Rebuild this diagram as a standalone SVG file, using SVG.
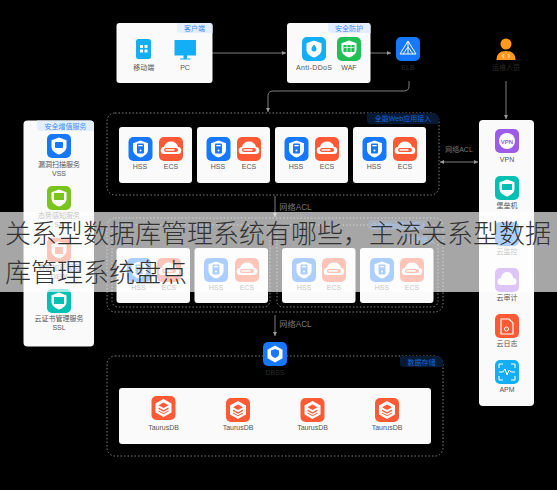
<svg xmlns="http://www.w3.org/2000/svg" width="557" height="490" viewBox="0 0 557 490">
<style>
text{font-family:"Liberation Sans","Noto Sans CJK SC",sans-serif;font-size:7px;fill:#555;text-anchor:middle}
.card{fill:#fafafa}
.dash{fill:none;stroke:#7f7f7f;stroke-width:1;stroke-dasharray:1.5 2}
.tag{fill:#e3eeff}
text.tagt{fill:#3f8cf5}
.dtag{fill:#071a33}
text.dtagt{fill:#1668dc}
.line{fill:none;stroke:#7d7d7d;stroke-width:1}
.g{fill:#fff}
text.dark{fill:#2b2b2b}
text.acl{fill:#7a7a7a;font-size:8.200px}
text.ov{font-family:"Noto Sans CJK SC","Liberation Sans",sans-serif;font-size:26px;font-weight:300;fill:#333;text-anchor:start}
</style>
<defs>
<marker id="a" viewBox="0 0 6 6" refX="5" refY="3" markerWidth="5" markerHeight="5" orient="auto-start-reverse"><path d="M0 .5L5 3L0 5.5z" fill="#9a9a9a"/></marker>
<g id="hss"><rect width="24" height="24" rx="5" fill="#1677ff"/><path d="M12 3.500l7.500 2.700v6.300c0 4-3.200 6.500-7.500 8-4.300-1.500-7.500-4-7.500-8V6.200z" fill="#fff"/><rect x="8.500" y="6.500" width="7" height="10" rx="1" fill="#1677ff"/><rect x="9.800" y="8" width="4.400" height="1.300" fill="#fff"/><circle cx="12" cy="13.500" r="1" fill="#fff"/></g>
<g id="ecs"><rect width="24" height="24" rx="5" fill="#ff5a35"/><path d="M5.500 17a3.500 3.500 0 0 1-.5-7 7.200 7.200 0 0 1 14 0 3.500 3.500 0 0 1-.5 7z" fill="#fff"/><rect x="5" y="11" width="14" height="4" rx="2" fill="#ff5a35"/><rect x="6.500" y="12.200" width="9" height="1.500" fill="#fff"/></g>
<g id="tau"><rect width="24" height="24" rx="5" fill="#ff5a35"/><path d="M12 3l8 4.500v9L12 21l-8-4.500v-9z" fill="#fff"/><path d="M12 6.500l5 2.700-5 2.700-5-2.700zM7 11.500l5 2.700 5-2.700v1.500l-5 2.700-5-2.700zM7 14.500l5 2.700 5-2.700v1l-5 2.700-5-2.700z" fill="#ff5a35"/></g>
<g id="sh"><path d="M12 3.500l7.500 2.700v6.300c0 4-3.200 6.500-7.500 8-4.300-1.500-7.500-4-7.500-8V6.200z" fill="#fff"/></g>
</defs>
<rect width="557" height="490" fill="#000"/>
<g id="connectors">
<path class="line" d="M212 53H286" marker-end="url(#a)"/>
<path class="line" d="M370 53H391" marker-end="url(#a)"/>
<path class="line" d="M409 81V86Q409 91 404 91H273Q268 91 268 96V112" marker-end="url(#a)"/>
<path class="line" d="M506 81V119" marker-end="url(#a)"/>
<path class="line" d="M440 162H478" marker-start="url(#a)" marker-end="url(#a)"/>
<path class="line" d="M275 196V217" marker-end="url(#a)"/>
<path class="line" d="M275 315V336" marker-end="url(#a)"/>
<text class="acl" x="295.500" y="210">网络ACL</text>
<text class="acl" x="459" y="151.500" style="font-size:7px">网络ACL</text>
<text class="acl" x="295.500" y="327">网络ACL</text>
</g>
<g id="client"><rect class="card" x="116.500" y="23" width="96" height="60" rx="3"/><path class="tag" d="M177 23H209.500a3 3 0 0 1 3 3V33H181a4 4 0 0 1-4-4z"/><text class="tagt" x="194.500" y="31">客户端</text>
<rect x="136" y="39" width="15" height="20" rx="2.500" fill="#13aef5"/><g class="g"><rect x="140" y="45" width="3" height="3" rx=".6"/><rect x="144.500" y="45" width="3" height="3" rx=".6"/><rect x="140" y="49.500" width="3" height="3" rx=".6"/><rect x="144.500" y="49.500" width="3" height="3" rx=".6"/></g><text x="143.700" y="69.500">移动端</text>
<path d="M174.500 40h21.500v15.500h-9v3h3.500v1h-10.500v-1h3.500v-3h-9z" fill="#13aef5"/><text x="185" y="69.500">PC</text></g>
<g id="security"><rect class="card" x="287" y="23" width="83.500" height="60" rx="3"/><path class="tag" d="M328 23H367.500a3 3 0 0 1 3 3V33H332a4 4 0 0 1-4-4z"/><text class="tagt" x="349" y="31">安全防护</text>
<rect x="302" y="37" width="24" height="24" rx="5" fill="#13aef5"/><use href="#sh" x="302" y="37"/><path d="M314 44.500c1.500 2 2.500 3 2.500 4.500a2.500 2.500 0 0 1-5 0c0-1.500 1-2.500 2.500-4.500z" fill="#13aef5"/><text x="314" y="69.500" textLength="36" lengthAdjust="spacing">Anti-DDoS</text>
<rect x="337" y="37" width="24" height="24" rx="5" fill="#1fc056"/><use href="#sh" x="337" y="37"/><rect x="343.500" y="45" width="11" height="7" fill="#1fc056"/><path d="M344 47.500h10M347 45v7M351 45v7" stroke="#fff" stroke-width=".7"/><text x="349" y="69.500">WAF</text></g>
<g id="elb"><rect x="396" y="37" width="24" height="24" rx="5" fill="#1677ff"/><path d="M408 41L400 54H416zM408 41V54M403 54L408 47L413 54" fill="none" stroke="#fff" stroke-width="1"/><text class="dark" x="408" y="69.500">ELB</text></g>
<g id="ops"><circle cx="506" cy="44" r="5.500" fill="#ff9a1f"/><path d="M496.500 60c0-6 3.500-9 9.500-9s9.500 3 9.500 9z" fill="#ff9a1f"/><path d="M504 54l-1.500 2 1.500 2M508 54l1.500 2-1.500 2" fill="none" stroke="#fff" stroke-width=".8"/><text class="dark" x="506" y="69.500">运维人员</text></g>
<g id="web-zone"><rect class="dash" x="107" y="113" width="332" height="82" rx="8"/><path class="dtag" d="M367 113H433a6 6 0 0 1 6 6V124H371a4 4 0 0 1-4-4z"/><text class="dtagt" x="403" y="121">全能Web应用接入</text></g>
<g id="web-1"><rect class="card" x="119" y="127" width="73" height="56" rx="3"/><use href="#hss" x="128.500" y="137"/><use href="#ecs" x="159" y="137"/><text x="140" y="169">HSS</text><text x="171" y="169">ECS</text></g>
<g id="web-2"><rect class="card" x="197" y="127" width="73" height="56" rx="3"/><use href="#hss" x="206.500" y="137"/><use href="#ecs" x="237" y="137"/><text x="218" y="169">HSS</text><text x="249" y="169">ECS</text></g>
<g id="web-3"><rect class="card" x="275" y="127" width="73" height="56" rx="3"/><use href="#hss" x="284.500" y="137"/><use href="#ecs" x="315" y="137"/><text x="296" y="169">HSS</text><text x="327" y="169">ECS</text></g>
<g id="web-4"><rect class="card" x="353" y="127" width="73" height="56" rx="3"/><use href="#hss" x="362.500" y="137"/><use href="#ecs" x="393" y="137"/><text x="374" y="169">HSS</text><text x="405" y="169">ECS</text></g>
<g id="left-panel"><rect class="card" x="23.500" y="120.500" width="70.500" height="226" rx="4"/><path class="tag" d="M37 120.500H90a4 4 0 0 1 4 4V131H41a4 4 0 0 1-4-4z"/><text class="tagt" x="65.500" y="128.500">安全增值服务</text>
<g id="vss"><rect x="47" y="134" width="24" height="24" rx="5" fill="#1677ff"/><use href="#sh" x="47" y="134"/><rect x="55" y="142" width="8" height="6" rx="1" fill="#1677ff"/><text x="59" y="166.500">漏洞扫描服务</text><text x="59" y="175.500">VSS</text></g>
<g id="sa"><rect x="47" y="186" width="24" height="24" rx="5" fill="#7ac41e"/><use href="#sh" x="47" y="186"/><rect x="54" y="193" width="10" height="7" fill="#7ac41e"/><text x="59" y="217.500">态势感知服务</text><text x="59" y="226.500">SA</text></g>
<g id="dew"><rect x="47" y="238" width="24" height="24" rx="5" fill="#ff5a35"/><use href="#sh" x="47" y="238"/><rect x="55" y="247" width="8" height="7" fill="#ff5a35"/><text x="59" y="269.500">数据加密服务</text><text x="59" y="278.500">DEW</text></g>
<g id="ssl"><rect x="47" y="289" width="24" height="24" rx="5" fill="#00bfb3"/><use href="#sh" x="47" y="289"/><rect x="54" y="297" width="10" height="7" fill="#00bfb3"/><text x="59" y="320.500">云证书管理服务</text><text x="59" y="329.500">SSL</text></g></g>
<g id="right-panel"><rect class="card" x="479" y="120" width="55" height="286" rx="4"/>
<g id="vpn"><rect x="495" y="129" width="24" height="24" rx="5" fill="#9d5ce8"/><circle cx="507" cy="141" r="8" fill="#fff"/><text x="507" y="143.500" style="fill:#9d5ce8;font-size:6px;font-weight:bold">VPN</text><text x="507" y="161.500">VPN</text></g>
<g id="bastion"><rect x="495" y="176" width="24" height="24" rx="5" fill="#00bfb3"/><use href="#sh" x="495" y="176"/><rect x="502" y="184" width="10" height="6" fill="#00bfb3"/><text x="507" y="208">堡垒机</text></g>
<g id="ces"><rect x="495" y="222" width="24" height="24" rx="5" fill="#1677ff"/><text x="507" y="254">云监控</text></g>
<g id="cts"><rect x="495" y="268" width="24" height="24" rx="5" fill="#9d5ce8"/><path d="M501 285a3.500 3.500 0 0 1 0-7 6 6 0 0 1 12 0 3.500 3.500 0 0 1 0 7z" fill="#fff"/><text x="507" y="300">云审计</text></g>
<g id="lts"><rect x="495" y="314" width="24" height="24" rx="5" fill="#ff5a35"/><path d="M501 319h8l4 4v11h-12z" fill="none" stroke="#fff" stroke-width="1.200"/><circle cx="506.500" cy="329" r="2" fill="none" stroke="#fff"/><text x="507" y="346">云日志</text></g>
<g id="apm"><rect x="495" y="360" width="24" height="24" rx="5" fill="#13aef5"/><path d="M499 368v-4h4M511 364h4v4M515 376v4h-4M503 380h-4v-4M499 372h4l2-3 2 6 2-5 2 2h4" fill="none" stroke="#fff" stroke-width="1"/><text x="507" y="392">APM</text></g></g>
<g id="mid-zone"><rect class="dash" x="107" y="218" width="336" height="94" rx="8"/><rect class="dash" x="112" y="225" width="158" height="82" rx="6"/><rect class="dash" x="277" y="225" width="161" height="82" rx="6"/><rect x="368" y="220" width="62" height="10" rx="3" fill="#071a33"/><text class="dtagt" x="399" y="228">全能Web应用接入</text><rect x="409" y="235" width="24" height="9" rx="3" fill="#071a33"/><text class="dtagt" x="421" y="243">双活接入</text></g>
<g id="mid-1"><rect class="card" x="116.500" y="248" width="73.500" height="55" rx="3"/><use href="#hss" x="127" y="258"/><use href="#ecs" x="157" y="258"/><text x="138.500" y="289.500">HSS</text><text x="169" y="289.500">ECS</text></g>
<g id="mid-2"><rect class="card" x="194.500" y="248" width="73.500" height="55" rx="3"/><use href="#hss" x="204" y="258"/><use href="#ecs" x="235" y="258"/><text x="216" y="289.500">HSS</text><text x="247" y="289.500">ECS</text></g>
<g id="mid-3"><rect class="card" x="282" y="248" width="73.500" height="55" rx="3"/><use href="#hss" x="292" y="258"/><use href="#ecs" x="322" y="258"/><text x="304" y="289.500">HSS</text><text x="334" y="289.500">ECS</text></g>
<g id="mid-4"><rect class="card" x="360" y="248" width="73.500" height="55" rx="3"/><use href="#hss" x="370" y="258"/><use href="#ecs" x="400" y="258"/><text x="382" y="289.500">HSS</text><text x="412" y="289.500">ECS</text></g>
<g id="db-zone"><rect class="dash" x="107" y="356" width="336" height="100" rx="8"/><path class="dtag" d="M400 356H437a6 6 0 0 1 6 6V367H404a4 4 0 0 1-4-4z"/><text class="dtagt" x="421.500" y="364.500">数据存储</text></g>
<g id="dbss"><rect x="263" y="342" width="24" height="24" rx="5" fill="#1677ff"/><path d="M275 345.500l7.500 4.300v8.400l-7.500 4.300-7.500-4.300v-8.400z" fill="#fff"/><path d="M275 349l4 1.500v3.500c0 2-1.800 3.200-4 4-2.200-.8-4-2-4-4v-3.500z" fill="#1677ff"/><text class="dark" x="275" y="374.500">DBSS</text></g>
<g id="db-card"><rect class="card" x="119" y="388" width="312" height="56" rx="3"/></g>
<g id="db-1"><use href="#tau" x="151.500" y="396"/><text x="163.500" y="430">TaurusDB</text></g>
<g id="db-2"><use href="#tau" x="226" y="398"/><text x="238" y="430">TaurusDB</text></g>
<g id="db-3"><use href="#tau" x="300.500" y="398"/><text x="312.500" y="430">TaurusDB</text></g>
<g id="db-4"><use href="#tau" x="375" y="398"/><text x="387" y="430">TaurusDB</text></g>
<g id="banner"><rect x="0" y="212" width="557" height="80" fill="#fff" fill-opacity=".65"/><text class="ov" x="5" y="243">关系型数据库管理系统有哪些，主流关系型数据</text><text class="ov" x="5" y="282">库管理系统盘点</text></g>
</svg>
